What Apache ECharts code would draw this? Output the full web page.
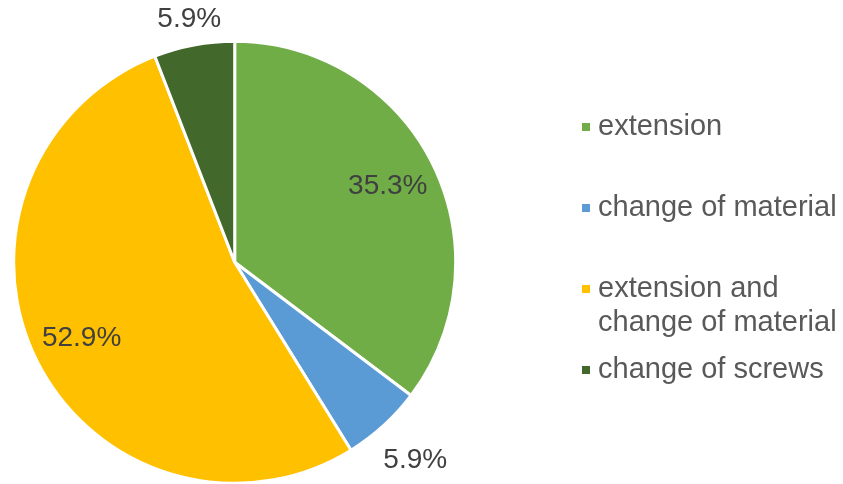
<!DOCTYPE html>
<html>
<head>
<meta charset="utf-8">
<script src="https://cdn.jsdelivr.net/npm/echarts@6/dist/echarts.min.js"></script>
<style>
  html, body { margin: 0; padding: 0; background: #ffffff; }
  #chart { width: 843px; height: 484px; }
</style>
</head>
<body>
<div id="chart"></div>
<script>
// Share of modification types
const categories = ['extension', 'change of material', 'extension and change of material', 'change of screws'];
const values = [6, 1, 9, 1];
const colors = ['#70AD47', '#5B9BD5', '#FFC000', '#43682B'];

const FONT = "'Liberation Sans', Arial, sans-serif";
const CENTER = [234.7, 262.3];
const R = 221;

// legend rows: icon centre sits on the first text line of each entry
const legendTops = [110, 191, 238, 353];

// the long entry wraps after "and"; a leading blank line keeps the
// marker level with the first line of text
function legendFormatter(name) {
  if (name.indexOf(' and change') >= 0) {
    return '\n' + name.replace(' and change', ' and\nchange');
  }
  return name;
}

const legends = categories.map((name, i) => ({
  data: [name],
  orient: 'vertical',
  left: 580,
  top: legendTops[i],
  padding: 0,
  icon: 'rect',
  itemWidth: 10,
  itemHeight: 10,
  selectedMode: false,
  formatter: legendFormatter,
  textStyle: {
    fontFamily: FONT,
    fontSize: 29,
    lineHeight: 34,
    color: '#595959',
    padding: [0, 0, 0, 2]
  }
}));

// transparent ring whose mid-radius carries the percentage labels of chosen slices
function labelRing(radius, shown) {
  return {
    type: 'pie',
    center: CENTER,
    radius: radius,
    startAngle: 90,
    clockwise: true,
    silent: true,
    legendHoverLink: false,
    avoidLabelOverlap: false,
    percentPrecision: 1,
    itemStyle: { color: 'rgba(0,0,0,0)', borderWidth: 0 },
    labelLine: { show: false },
    emphasis: { disabled: true },
    label: {
      position: 'inside',
      formatter: '{d}%',
      fontFamily: FONT,
      fontSize: 28,
      color: '#404040'
    },
    data: categories.map((name, i) => ({
      name: name,
      value: values[i],
      label: { show: shown.includes(i) }
    }))
  };
}

const chart = echarts.init(document.getElementById('chart'), null, { renderer: 'canvas' });
chart.setOption({
  animation: false,
  backgroundColor: '#ffffff',
  legend: legends,
  series: [
    {
      type: 'pie',
      center: CENTER,
      radius: [0, R],
      startAngle: 90,
      clockwise: true,
      percentPrecision: 1,
      itemStyle: { borderColor: '#ffffff', borderWidth: 3 },
      label: { show: false },
      labelLine: { show: false },
      emphasis: { scale: false },
      data: categories.map((name, i) => ({
        name: name,
        value: values[i],
        itemStyle: { color: colors[i] }
      }))
    },
    labelRing([115, R], [0, 2]),
    labelRing([R, 309], [1]),
    labelRing([R, 268], [3])
  ]
});
</script>
</body>
</html>
